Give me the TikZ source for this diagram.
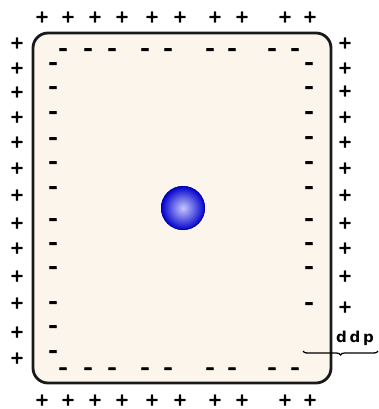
\documentclass[tikz,border=0pt]{standalone}
\usepackage{fontspec}
\setmainfont{DejaVu Sans}
\newfontfamily\signfont{DejaVu Sans Bold}[FakeBold=2]
\newfontfamily\minusfont{DejaVu Sans Bold}[FakeBold=4.5]
\usetikzlibrary{decorations.pathreplacing}
\definecolor{cream}{HTML}{FCF5EC}
\tikzset{
  plussign/.style={inner sep=0pt, font=\fontsize{17}{17}\signfont},
  minussign/.style={inner sep=0pt, font=\fontsize{17}{17}\minusfont},
  boxline/.style={line width=2.8pt, rounded corners=15pt, fill=cream, draw=black!90},
}
\begin{document}
\begin{tikzpicture}[x=1pt,y=-1pt]
\useasboundingbox (0,0) rectangle (379,409);
% box
\draw[boxline] (33,33) rectangle (331,383);
% plus signs outside
\foreach \x [count=\i] in {42,68,95,122,152,180,215,242,285,310} {
  \node[plussign] (pt\i) at (\x,17) {+};
  \node[plussign] (pb\i) at (\x,400) {+};
}
\foreach \y [count=\i] in {43,68,92,117,142,168,195,223,248,276,303,332,358} {
  \node[plussign] (pl\i) at (17,\y) {+};
}
\foreach \y [count=\i] in {43,68,91,117,142,168,195,223,248,276,307} {
  \node[plussign] (pr\i) at (345,\y) {+};
}
% minus signs inside
\foreach \x [count=\i] in {63,88,112,145,168,210,232,272,295} {
  \node[minussign] (mt\i) at (\x,51.5) {–};
  \node[minussign] (mb\i) at (\x,370.5) {–};
}
\foreach \y [count=\i] in {63,87,112,138,162,187,219,243,267,302,326,351} {
  \node[minussign] (ml\i) at (53,\y+2.5) {–};
}
\foreach \y [count=\i] in {63,87,112,137,162,187,219,243,267,303} {
  \node[minussign] (mr\i) at (309,\y+2.5) {–};
}
% ball
\shade[inner color=blue!22!white, outer color=blue!80!black] (183,208) circle[radius=22];
\draw[blue!60!black, line width=0.6pt] (183,208) circle[radius=21.7];
\node[inner sep=0pt, minimum size=44pt] (ball) at (183,208) {};
% ddp label and brace
\node[font=\fontsize{15}{15}\selectfont\bfseries\addfontfeature{LetterSpace=18}] (ddp) at (355,338) {ddp};
\coordinate (br1) at (303,351);
\coordinate (br2) at (378,351);
\draw[line width=1.3pt, decorate, decoration={brace, mirror, amplitude=4pt}] (br1) -- (br2);
\end{tikzpicture}
\end{document}
